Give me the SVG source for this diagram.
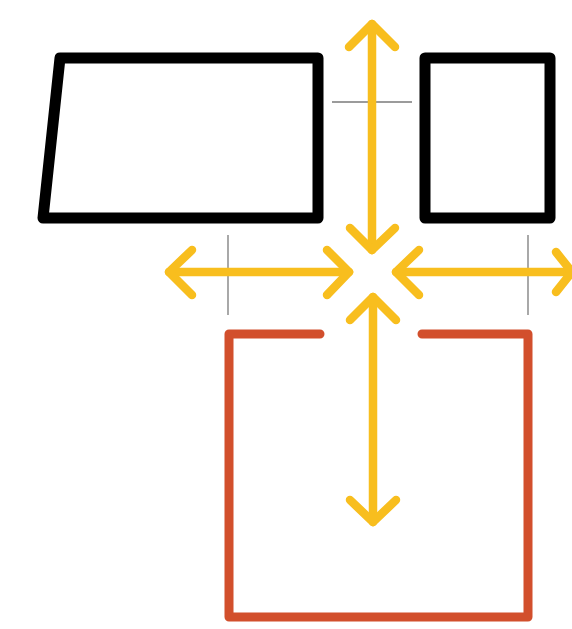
<svg xmlns="http://www.w3.org/2000/svg" width="572" height="629" viewBox="0 0 572 629">
<style>
.blk{fill:none;stroke:#000;stroke-width:11;stroke-linejoin:round}
.org{fill:none;stroke:#D24F2C;stroke-width:9;stroke-linecap:round;stroke-linejoin:round}
.yel{fill:none;stroke:#F8BE1E;stroke-width:8.5;stroke-linecap:round;stroke-linejoin:round}
.gry{fill:none;stroke:#7a7a7a;stroke-width:1.3}
</style>
<rect width="572" height="629" fill="#fff"/>
<g id="left-shape"><polygon class="blk" points="60,58 318,58 318,218 43,218"/></g>
<g id="right-shape"><rect class="blk" x="425" y="58" width="125" height="160"/></g>
<g id="bottom-shape"><path class="org" d="M320,334 H229 V617 H528 V334 H422"/></g>
<g id="connectors">
<line class="gry" x1="332" y1="102" x2="412" y2="102"/>
<line class="gry" x1="228" y1="235" x2="228" y2="315"/>
<line class="gry" x1="528" y1="235" x2="528" y2="315"/>
<line class="yel" x1="372" y1="24" x2="372" y2="250"/>
<polyline class="yel" points="349,47 372,24 395,47"/>
<polyline class="yel" points="350,228 372,250 395,228"/>
<line class="yel" x1="169" y1="272" x2="349" y2="272"/>
<polyline class="yel" points="192,250 169,272 192,295"/>
<polyline class="yel" points="327,250 349,272 327,295"/>
<line class="yel" x1="396" y1="272" x2="571" y2="272"/>
<polyline class="yel" points="419,250 396,272 419,295"/>
<polyline class="yel" points="556,252 572,272 556,292"/>
<line class="yel" x1="373" y1="297" x2="373" y2="522"/>
<polyline class="yel" points="350,320 373,297 396,320"/>
<polyline class="yel" points="350,500 373,522 396,500"/>
</g>
</svg>
